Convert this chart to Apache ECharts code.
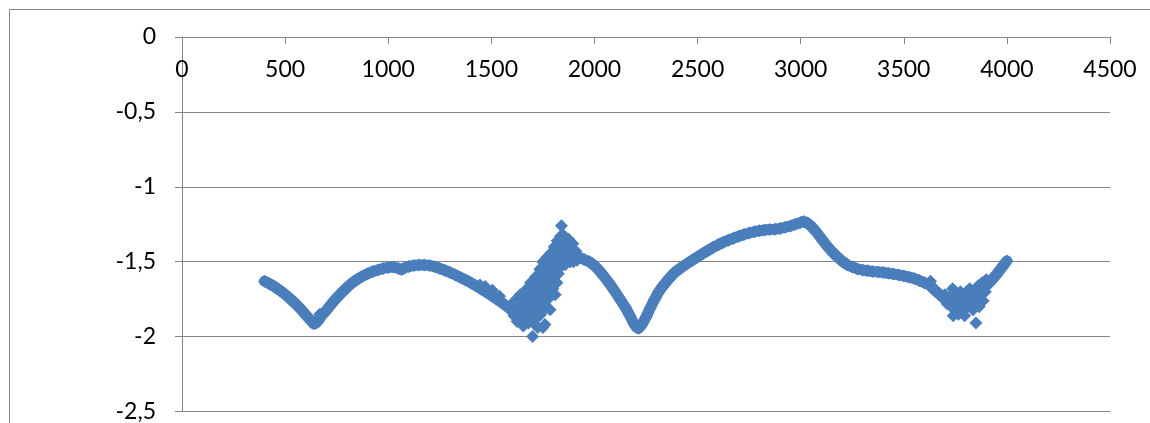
<!DOCTYPE html>
<html>
<head>
<meta charset="utf-8">
<script src="https://cdn.jsdelivr.net/npm/echarts@6/dist/echarts.min.js"></script>
<style>
html,body{margin:0;padding:0;background:#fff;}
#chart{width:1150px;height:423px;}
</style>
</head>
<body>
<div id="chart"></div>
<script>
// Axis ticks
const xTicks = [0, 500, 1000, 1500, 2000, 2500, 3000, 3500, 4000, 4500];
const yTicks = [0, -0.5, -1, -1.5, -2, -2.5];

// Main trend, part 1 (x 400 – 1600)
const curve1X = [400,425,450,475,500,525,550,575,600,625,640,650,665,675,700,725,750,775,800,825,850,875,900,925,950,975,1000,1025,1050,1065,1080,1100,1125,1150,1175,1200,1225,1250,1275,1300,1325,1350,1375,1400,1425,1450,1475,1500,1525,1550,1575,1600];
const curve1Y = [-1.630,-1.648,-1.668,-1.692,-1.718,-1.748,-1.780,-1.815,-1.855,-1.893,-1.915,-1.910,-1.885,-1.862,-1.825,-1.782,-1.742,-1.705,-1.672,-1.642,-1.617,-1.597,-1.580,-1.566,-1.555,-1.545,-1.538,-1.535,-1.545,-1.552,-1.540,-1.532,-1.525,-1.522,-1.522,-1.525,-1.533,-1.545,-1.558,-1.572,-1.588,-1.605,-1.622,-1.640,-1.660,-1.682,-1.703,-1.725,-1.748,-1.772,-1.798,-1.825];

// Small bumps sticking out of part 1
const bump1X = [668,1445,1470,1505,1540];
const bump1Y = [-1.850,-1.655,-1.665,-1.690,-1.730];

// Centre of the noisy cloud (x 1600 – 1925)
const trend1X = [1625,1650,1675,1700,1725,1750,1775,1800,1825,1850,1875,1900];
const trend1Y = [-1.810,-1.790,-1.765,-1.735,-1.695,-1.650,-1.600,-1.545,-1.490,-1.440,-1.440,-1.455];

// Noisy cloud points (x 1600 – 1915)
const noise1X = [1600,1610,1615,1620,1625,1630,1640,1645,1650,1655,1660,1665,1670,1675,1680,1685,1690,1695,1700,1700,1705,1710,1715,1720,1725,1730,1735,1740,1745,1750,1750,1755,1760,1765,1770,1775,1780,1785,1790,1795,1800,1805,1810,1815,1820,1825,1830,1835,1840,1845,1850,1855,1860,1865,1870,1875,1880,1885,1890,1895,1900,1910,1915,
 1605,1618,1628,1638,1648,1658,1668,1678,1688,1698,1708,1712,1718,1728,1732,1738,1748,1752,1758,1762,1768,1772,1778,1782,1788,1792,1798,1802,1808,1812,1818,1822,1828,1832,1838,1842,1848,1852,1858,1862,1868,1872,1878,1882,1888,1892,1898,1905,
 1612,1622,1634,1642,1652,1662,1672,1682,1692,1702,1722,1742,1756,1766,1776,1786,1796,1806,1816,1826,1836,1846,1856,1866,1876,1886,1896];
const noise1Y = [-1.78,-1.86,-1.80,-1.75,-1.90,-1.83,-1.72,-1.88,-1.80,-1.93,-1.76,-1.69,-1.85,-1.79,-1.91,-1.72,-1.64,-1.83,-2.00,-1.76,-1.88,-1.68,-1.60,-1.80,-1.94,-1.72,-1.55,-1.85,-1.66,-1.50,-1.94,-1.76,-1.92,-1.60,-1.47,-1.70,-1.56,-1.82,-1.44,-1.62,-1.52,-1.40,-1.72,-1.48,-1.36,-1.58,-1.44,-1.33,-1.26,-1.50,-1.40,-1.36,-1.46,-1.38,-1.42,-1.35,-1.47,-1.40,-1.44,-1.38,-1.46,-1.43,-1.49,
 -1.84,-1.82,-1.77,-1.86,-1.74,-1.84,-1.78,-1.70,-1.80,-1.69,-1.78,-1.92,-1.70,-1.64,-1.86,-1.76,-1.82,-1.62,-1.54,-1.70,-1.80,-1.64,-1.50,-1.74,-1.60,-1.52,-1.68,-1.46,-1.58,-1.42,-1.64,-1.50,-1.40,-1.54,-1.46,-1.38,-1.32,-1.44,-1.52,-1.40,-1.46,-1.37,-1.43,-1.50,-1.45,-1.41,-1.50,-1.44,
 -1.79,-1.85,-1.76,-1.81,-1.77,-1.72,-1.82,-1.75,-1.70,-1.84,-1.75,-1.70,-1.66,-1.58,-1.62,-1.66,-1.58,-1.54,-1.52,-1.46,-1.42,-1.42,-1.48,-1.42,-1.40,-1.43,-1.47];

// Main trend, part 2 (x 1925 – 3725)
const curve2X = [1925,1950,1975,2000,2025,2050,2075,2100,2125,2150,2170,2190,2205,2215,2230,2250,2270,2290,2310,2330,2345,2360,2380,2400,2425,2450,2475,2500,2525,2550,2575,2600,2625,2650,2675,2700,2725,2750,2775,2800,2825,2850,2875,2900,2925,2950,2975,3000,3015,3030,3050,3075,3100,3125,3150,3175,3200,3225,3250,3275,3300,3325,3350,3375,3400,3425,3450,3475,3500,3525,3550,3575,3600,3625,3650,3675,3700,3725];
const curve2Y = [-1.470,-1.485,-1.500,-1.525,-1.562,-1.605,-1.650,-1.700,-1.752,-1.805,-1.855,-1.910,-1.940,-1.945,-1.920,-1.870,-1.810,-1.755,-1.705,-1.665,-1.640,-1.615,-1.585,-1.560,-1.535,-1.512,-1.490,-1.468,-1.446,-1.425,-1.405,-1.387,-1.370,-1.356,-1.343,-1.330,-1.318,-1.308,-1.300,-1.293,-1.288,-1.285,-1.283,-1.278,-1.270,-1.262,-1.250,-1.238,-1.232,-1.240,-1.262,-1.300,-1.345,-1.390,-1.430,-1.465,-1.495,-1.520,-1.535,-1.548,-1.555,-1.560,-1.565,-1.568,-1.572,-1.577,-1.582,-1.588,-1.595,-1.603,-1.612,-1.625,-1.640,-1.655,-1.690,-1.720,-1.750,-1.775];

// Bump sticking out of part 2
const bump2X = [3630];
const bump2Y = [-1.630];

// Centre of the second noisy cloud (x 3725 – 3900)
const trend2X = [3750,3775,3800,3825,3850,3875];
const trend2Y = [-1.790,-1.790,-1.770,-1.750,-1.720,-1.690];

// Second noisy cloud points (x 3700 – 3900)
const noise2X = [3700,3710,3720,3730,3737,3740,3745,3750,3755,3760,3765,3770,3775,3780,3785,3790,3795,3800,3805,3810,3815,3820,3825,3830,3835,3840,3845,3850,3855,3860,3865,3870,3875,3880,3885,3890,3895,3900,
 3762,3782,3802,3822,3842,3862,3882];
const noise2Y = [-1.72,-1.78,-1.74,-1.80,-1.68,-1.86,-1.76,-1.82,-1.72,-1.79,-1.85,-1.76,-1.70,-1.83,-1.78,-1.72,-1.86,-1.76,-1.70,-1.80,-1.74,-1.68,-1.78,-1.72,-1.82,-1.70,-1.76,-1.91,-1.67,-1.74,-1.80,-1.68,-1.72,-1.64,-1.76,-1.66,-1.70,-1.62,
 -1.73,-1.75,-1.73,-1.71,-1.69,-1.66,-1.64];

// Final rise (x 3900 – 4000)
const curve3X = [3900,3925,3950,3975,4000];
const curve3Y = [-1.660,-1.625,-1.585,-1.540,-1.495];

function pairs(xs, ys){ return xs.map((x,i)=>[x, ys[i]]); }
const trendPts = [].concat(pairs(curve1X,curve1Y), pairs(trend1X,trend1Y), pairs(curve2X,curve2Y), pairs(trend2X,trend2Y), pairs(curve3X,curve3Y));
const points = [].concat(pairs(curve1X,curve1Y), pairs(bump1X,bump1Y), pairs(noise1X,noise1Y), pairs(curve2X,curve2Y), pairs(bump2X,bump2Y), pairs(noise2X,noise2Y), pairs(curve3X,curve3Y));

const axisGrey = '#868686';
const blue = '#4a7ebb';
const font = 'Lato, "Open Sans", sans-serif';

const chart = echarts.init(document.getElementById('chart'), null, {renderer:'canvas'});
chart.setOption({
  animation: false,
  backgroundColor: '#fff',
  graphic: [{
    type: 'rect',
    shape: {x: 9.5, y: 9.5, width: 1400, height: 700},
    style: {fill: 'none', stroke: axisGrey, lineWidth: 1},
    silent: true
  }],
  grid: {left: 182, top: 37, width: 928, height: 375, containLabel: false},
  xAxis: {
    type: 'value', position: 'top',
    min: xTicks[0], max: xTicks[xTicks.length-1], interval: xTicks[1]-xTicks[0],
    axisLine: {show: true, onZero: false, lineStyle: {color: axisGrey, width: 1}},
    axisTick: {show: true, inside: true, length: 7, lineStyle: {color: axisGrey}},
    axisLabel: {inside: true, margin: 21, color: '#000', fontFamily: font, fontSize: 23, showMinLabel: true, showMaxLabel: true,
      formatter: v => String(v)},
    splitLine: {show: false}
  },
  yAxis: {
    type: 'value',
    min: yTicks[yTicks.length-1], max: yTicks[0], interval: 0.5,
    axisLine: {show: true, lineStyle: {color: axisGrey, width: 1}},
    axisTick: {show: true, length: 7, lineStyle: {color: axisGrey}},
    axisLabel: {margin: 26, color: '#000', fontFamily: font, fontSize: 23,
      formatter: v => String(v).replace('.', ',')},
    splitLine: {show: true, lineStyle: {color: axisGrey, width: 1}}
  },
  series: [{
    type: 'line',
    data: trendPts,
    showSymbol: false,
    lineStyle: {color: blue, width: 11, join: 'round', cap: 'round'},
    itemStyle: {color: blue},
    z: 2
  }, {
    type: 'scatter',
    symbol: 'diamond',
    symbolSize: 13,
    itemStyle: {color: blue, opacity: 1},
    data: points,
    z: 3
  }]
});
</script>
</body>
</html>
